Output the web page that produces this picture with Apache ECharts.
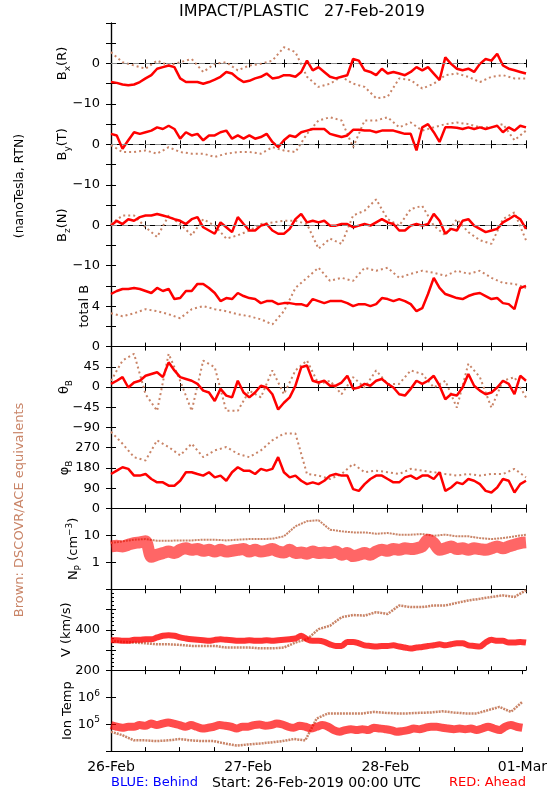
<!DOCTYPE html>
<html><head><meta charset="utf-8">
<script src="https://cdn.jsdelivr.net/npm/echarts@6/dist/echarts.min.js"></script>
<style>html,body{margin:0;padding:0;background:#fff}#c{width:550px;height:800px}</style>
</head><body><div id="c"></div>
<script>
// ---- Data (hourly for Ahead/red, 2-hourly for DSCOVR/ACE brown), hours from 26-Feb-2019 00:00 UTC ----
const bxRed = [-4.6,-4.8,-5.2,-5.4,-5.2,-4.6,-3.7,-2.9,-1.3,-0.9,-0.5,-0.9,-3.7,-4.6,-4.6,-4.6,-5.0,-4.6,-4.0,-3.3,-2.1,-2.5,-3.7,-4.6,-4.3,-3.7,-3.3,-2.5,-3.7,-3.5,-2.9,-2.9,-3.3,-2.1,0.7,-1.7,-0.9,-2.1,-3.3,-3.7,-3.3,-2.9,1.1,0.7,-1.7,-2.1,-2.9,-1.3,-2.5,-2.1,-2.5,-2.9,-2.1,-0.9,-1.7,-0.9,-2.5,-4.1,1.5,-0.1,-1.3,-1.7,-1.3,-2.1,-0.1,1.1,0.7,2.4,-0.5,-1.3,-1.7,-2.1,-2.5];
const bxBrown = [2.8,0.3,-0.5,-1.3,0.7,-0.5,0.3,1.1,-2.1,-0.1,0.3,-1.7,-0.5,-0.1,0.7,4.0,2.8,-3.3,-5.8,-5.0,-3.3,-5.0,-5.8,-8.6,-8.2,-3.7,-4.1,-6.2,-5.0,-2.9,-2.5,-3.3,-4.6,-3.3,-2.9,-3.7,-3.7];
const byRed = [2.6,2.2,-1.1,1.0,3.0,2.6,3.0,3.4,4.2,3.8,4.6,3.8,1.4,3.0,2.2,2.6,1.0,2.2,2.2,3.0,3.4,1.4,2.2,1.4,2.2,1.4,1.8,2.6,0.6,-0.7,1.0,2.2,1.8,3.0,3.4,3.8,3.8,3.8,2.6,2.2,1.8,2.2,3.6,3.6,3.4,3.4,3.0,3.4,3.4,3.4,3.0,2.6,2.6,-1.5,4.2,5.0,3.0,0.6,4.2,4.2,4.1,3.8,4.2,3.8,4.2,3.8,4.2,4.6,3.0,4.2,3.4,4.6,4.2];
const byBrown = [-0.2,-1.9,-1.9,-1.5,-2.3,-0.7,-1.9,-2.3,-2.3,-3.1,-2.3,-1.9,-1.9,-2.3,-0.7,-1.5,-1.9,2.6,5.9,6.7,5.9,-0.7,5.9,5.9,6.7,4.2,5.4,3.4,4.2,5.0,5.4,5.0,4.2,4.2,5.0,1.0,3.4];
const bzRed = [-0.1,1.1,0.3,1.5,1.1,2.0,2.4,2.4,2.8,2.4,2.0,1.5,1.1,0.3,1.5,2.0,-0.5,-1.3,-2.1,0.7,-0.5,-1.7,2.0,0.3,-1.3,-1.3,-0.1,0.3,-1.3,-2.1,-2.1,-0.9,1.5,2.8,0.7,1.1,0.7,1.1,-0.1,-0.1,0.3,0.3,-0.5,-0.1,0.3,-0.1,0.7,1.5,0.7,0.3,-1.3,-1.3,-0.1,0.3,-0.1,0.3,2.8,1.1,-2.1,-0.9,-1.3,1.1,1.5,-0.1,-0.9,-1.7,-1.3,-0.9,0.7,1.5,2.4,1.5,-0.9];
const bzBrown = [0.3,2.4,2.4,-0.5,-2.9,2.4,0.3,-2.5,1.5,-0.1,-3.3,-2.5,-1.3,0.3,0.7,1.1,1.1,0.3,-5.8,-3.3,-4.6,2.4,3.6,6.4,1.5,-0.1,4.0,4.8,-0.1,-2.5,1.5,-1.7,-3.7,-4.6,1.5,3.2,-3.7];
const btRed = [5.2,5.5,5.7,5.7,5.8,5.7,5.5,5.3,5.8,5.5,5.7,4.7,4.8,5.5,5.5,6.2,6.2,5.8,5.3,4.5,4.8,4.7,5.3,5.0,4.8,4.7,4.3,4.5,4.5,4.2,4.3,4.3,4.2,4.2,4.0,4.7,4.5,4.3,4.5,4.5,4.5,4.3,4.0,4.2,4.2,4.0,4.2,4.8,4.7,4.5,4.7,4.5,4.2,3.5,3.8,5.2,6.8,5.8,5.2,5.0,4.8,4.7,5.0,5.2,5.3,5.0,4.7,4.8,4.3,4.2,3.7,5.8,6.0];
const btBrown = [3.3,3.0,3.3,3.7,3.5,3.2,2.8,3.7,4.0,3.7,3.5,3.2,3.0,2.7,2.2,3.5,5.8,6.8,7.8,6.5,6.8,6.5,7.8,7.5,7.8,6.8,7.2,7.5,7.3,7.0,7.5,7.2,7.5,6.8,6.3,6.2,5.8];
const thRed = [7,14,22,-1,10,14,25,29,33,22,55,37,22,18,14,7,-8,-12,-31,-4,-19,-23,14,-12,-23,-12,3,-1,-16,-50,-35,-23,3,44,48,14,10,14,3,3,10,25,-4,-1,7,3,14,18,7,-1,-16,-19,-4,14,7,14,25,3,-27,-16,-19,-1,29,3,-8,-16,-12,-1,14,7,-16,25,14];
const thBrown = [14,59,74,-16,-53,74,14,-53,59,44,-53,-53,-8,-23,37,-16,37,59,7,14,-16,22,-1,37,7,7,37,29,-1,14,-46,52,22,-46,14,22,-23];
const phRed = [153,168,183,176,146,146,153,131,116,116,101,101,123,161,161,153,146,161,138,146,123,161,183,168,168,153,176,168,176,228,161,138,146,123,108,116,108,123,146,153,146,146,86,78,108,131,146,146,131,116,116,138,146,131,146,146,131,161,78,93,116,108,131,123,108,78,71,93,131,123,71,108,123];
const phBrown = [341,288,228,213,303,273,236,288,228,258,273,243,228,258,303,333,333,153,146,131,153,198,161,168,161,153,176,168,161,153,146,153,146,153,153,176,138];
const npRed = [3.9,4.1,3.9,4.5,5.2,5.5,6.0,1.6,1.9,2.2,2.5,2.2,2.9,3.3,2.9,3.1,2.7,2.9,2.5,2.9,2.5,2.7,2.9,3.1,2.5,2.9,2.5,2.7,3.1,2.5,2.3,2.9,2.2,2.3,2.1,2.5,2.2,2.3,2.2,2.5,1.9,2.2,1.7,1.9,2.2,1.9,2.5,2.9,2.7,3.1,2.9,3.3,3.1,3.3,3.9,6.9,5.2,2.9,3.3,3.9,3.1,3.3,2.9,3.3,3.1,2.9,3.3,3.9,3.3,3.9,4.5,5.2,5.5];
const npBrown = [5.2,6.0,6.9,7.3,6.3,6.3,6.5,6.5,6.9,6.9,6.5,6.9,7.3,7.3,7.5,9.2,21.7,33.5,36.5,16.3,14.1,12.9,12.9,11.5,12.2,10.6,10.6,11.2,9.7,10.6,9.2,9.2,7.9,7.3,7.9,9.2,10.6];
const vRed = [348,348,345,345,350,350,353,353,362,370,373,370,362,357,353,350,348,345,350,353,350,348,345,345,348,345,345,348,345,348,350,353,357,370,353,345,345,340,328,320,320,340,340,333,323,320,317,320,320,323,317,312,307,312,315,320,323,328,323,328,333,333,323,320,317,337,350,345,345,337,337,340,337];
const vBrown = [345,340,337,333,328,328,325,320,320,320,312,312,312,308,308,312,337,353,403,420,462,473,470,487,478,520,512,512,520,520,533,545,553,562,570,562,595];
const tRed = [92000,80000,73000,80000,80000,92000,87000,105000,92000,105000,115000,105000,92000,80000,92000,80000,69000,73000,80000,92000,87000,80000,69000,80000,80000,92000,97000,87000,92000,105000,97000,80000,73000,87000,80000,69000,80000,92000,80000,60000,52000,60000,65000,60000,65000,60000,73000,69000,65000,60000,52000,55000,60000,69000,65000,73000,80000,80000,73000,69000,65000,69000,65000,69000,60000,69000,80000,69000,60000,80000,92000,80000,73000];
const tBrown = [52000,39000,25000,25000,23500,25000,28000,25000,23500,23500,19000,16000,17700,19000,21000,23500,28000,25000,162000,250000,250000,250000,250000,285000,263000,250000,250000,263000,270000,300000,270000,250000,250000,330000,436000,285000,670000];
const redStep = 1, brownStep = 2; // hours between samples
const dayTicks = {0:'26-Feb', 24:'27-Feb', 48:'28-Feb', 72:'01-Mar'};

// ---- Panel setup ----
const RED = '#ff0000', BROWN = '#c98467', FONT = 'DejaVu Sans';
const panels = [
  {name:'B{sub|x}(R)', min:-10, max:10, interval:5, labels:[-10,0], red:bxRed, brown:bxBrown, zero:true, gap:39},
  {name:'B{sub|y}(T)', min:-10, max:10, interval:5, labels:[-10,0], red:byRed, brown:byBrown, zero:true, gap:39},
  {name:'B{sub|z}(N)', min:-10, max:10, interval:5, labels:[-10,0], red:bzRed, brown:bzBrown, zero:true, gap:39},
  {name:'total B', min:0, max:8, interval:2, labels:[0,4], red:btRed, brown:btBrown, gap:20},
  {name:'θ{sub|B}', min:-90, max:90, interval:45, labels:[-90,-45,0,45], red:thRed, brown:thBrown, gap:37},
  {name:'φ{sub|B}', min:0, max:360, interval:90, labels:[0,90,180,270], red:phRed, brown:phBrown, gap:37},
  {name:'N{sub|P} (cm{sup|−3})', log:true, min:0.1, max:100, labels:[1,10], red:npRed, brown:npBrown, gap:28, redStyle:{width:12, opacity:0.6, join:'round', cap:'butt'}, smooth:0.3, brownStyle:{width:2,type:[2,1]}},
  {name:'V (km/s)', min:200, max:600, interval:100, labels:[200,400], minor:5, red:vRed, brown:vBrown, gap:38, redStyle:{width:6, opacity:0.8, join:'round', cap:'butt'}, smooth:0.3, brownStyle:{width:2.5,type:[2,1]}},
  {name:'Ion Temp', log:true, min:1e4, max:1e7, labels:[1e5,1e6], sup:true, red:tRed, brown:tBrown, gap:37, redStyle:{width:8, opacity:0.7, join:'round', cap:'butt'}, smooth:0.3, brownStyle:{width:2.5,type:[2,1]}}
];
const TOP0 = 23, PH = 80.9, LEFT = 111, RIGHTM = 24;
const grids = [], xAxes = [], yAxes = [], series = [];
const rich = {
  sub:{fontSize:9, fontFamily:FONT, padding:[9,0,0,0], verticalAlign:'bottom', color:'#000'},
  sup:{fontSize:9, fontFamily:FONT, padding:[0,0,8,0], verticalAlign:'top', color:'#000'}
};
panels.forEach((p, i) => {
  grids.push({left:LEFT, right:RIGHTM, top:TOP0 + i*PH, height:PH, containLabel:false});
  const last = i === panels.length - 1;
  const xb = {type:'value', gridIndex:i, min:0, max:72, interval:6, position:'bottom',
    axisLine:{show:true, lineStyle:{color:'#000', width:1.2}},
    axisTick:{show:true, inside:true, length:4, lineStyle:{color:'#000'}},
    splitLine:{show:false},
    axisLabel:{show:last, margin:9, fontFamily:FONT, fontSize:14, color:'#000', showMaxLabel:true, showMinLabel:true,
      formatter:v => dayTicks[v] !== undefined ? dayTicks[v] : ''}};
  const xt = {type:'value', gridIndex:i, min:0, max:72, interval:6, position:'top',
    axisLine:{show:true, lineStyle:{color:'#000', width:1.2}},
    axisTick:{show:true, inside:true, length:4, lineStyle:{color:'#000'}},
    splitLine:{show:false}, axisLabel:{show:false}};
  xAxes.push(xb, xt);
  const isLab = v => p.labels.some(l => p.log ? Math.abs(Math.log10(v) - Math.log10(l)) < 0.01 : Math.abs(v - l) < 1e-6);
  const yBase = {gridIndex:i, min:p.min, max:p.max, type:p.log ? 'log' : 'value'};
  if (!p.log) yBase.interval = p.interval;
  const yl = Object.assign({}, yBase, {position:'left',
    name:p.name, nameLocation:'middle', nameGap:p.gap, nameRotate:90, nameMoveOverlap:false,
    nameTextStyle:{fontFamily:FONT, fontSize:13, color:'#000', rich:rich},
    axisLine:{show:true, lineStyle:{color:'#000', width:1.2}},
    axisTick:{show:true, inside:true, length:5, lineStyle:{color:'#000'}},
    minorTick: p.minor ? {show:true, splitNumber:p.minor, length:3, lineStyle:{color:'#000'}} : {show:false},
    splitLine:{show:false}, minorSplitLine:{show:false},
    axisLabel:{show:true, margin:11, fontFamily:FONT, fontSize:13, color:'#000', rich:rich, showMinLabel:true, showMaxLabel:true,
      formatter:v => {
        if (!isLab(v)) return '';
        if (p.sup) return '10{sup|' + Math.round(Math.log10(v)) + '}';
        if (p.log) return String(Math.round(v));
        return String(v).replace('-', '−');
      }}});
  const yr = Object.assign({}, yBase, {position:'right',
    axisLine:{show:true, lineStyle:{color:'#000', width:1.2}},
    axisTick:{show:true, inside:true, length:5, lineStyle:{color:'#000'}},
    splitLine:{show:false}, axisLabel:{show:false}});
  yAxes.push(yl, yr);
  const brownData = p.brown.map((v, k) => [k*brownStep, v]);
  const redData = p.red.map((v, k) => [k*redStep, v]);
  const bs = Object.assign({color:BROWN, width:2, type:[2,3], cap:'butt'}, p.brownStyle || {});
  const rs = Object.assign({color:RED, width:2.5}, p.redStyle || {});
  const brownSeries = {type:'line', xAxisIndex:2*i, yAxisIndex:2*i, data:brownData, showSymbol:false, symbol:'none',
    lineStyle:bs, z:2, silent:true, clip:true};
  if (p.zero) {
    brownSeries.markLine = {silent:true, symbol:'none', label:{show:false},
      lineStyle:{color:'#8c8c8c', type:[6,5], width:1}, data:[{yAxis:0}]};
  }
  series.push(brownSeries);
  series.push({type:'line', xAxisIndex:2*i, yAxisIndex:2*i, data:redData, showSymbol:false, symbol:'none',
    smooth:p.smooth || false, lineStyle:rs, z:3, silent:true, clip:true});
});

const txt = (text, x, y, size, color, rot, align) => ({
  type:'text', x:x, y:y, rotation:rot || 0, silent:true,
  style:{text:text, fill:color, font:size + 'px "' + FONT + '"', fontSize:size, fontFamily:FONT,
    align:align || 'center', verticalAlign:'middle', textAlign:align || 'center', textVerticalAlign:'middle'}
});
const graphics = [
  txt('IMPACT/PLASTIC   27-Feb-2019', 302, 12, 16, '#000'),
  txt('(nanoTesla, RTN)', 20, 186, 12.5, '#000', Math.PI/2),
  txt('Brown: DSCOVR/ACE equivalents', 20, 510, 13, BROWN, Math.PI/2),
  txt('BLUE: Behind', 111, 783, 13, '#0000ff', 0, 'left'),
  txt('Start: 26-Feb-2019 00:00 UTC', 212, 783, 14, '#000', 0, 'left'),
  txt('RED: Ahead', 526, 783, 13, '#ff0000', 0, 'right')
];

const chart = echarts.init(document.getElementById('c'), null, {renderer:'canvas'});
chart.setOption({animation:false, backgroundColor:'#fff', grid:grids, xAxis:xAxes, yAxis:yAxes, series:series, graphic:graphics});
</script></body></html>
